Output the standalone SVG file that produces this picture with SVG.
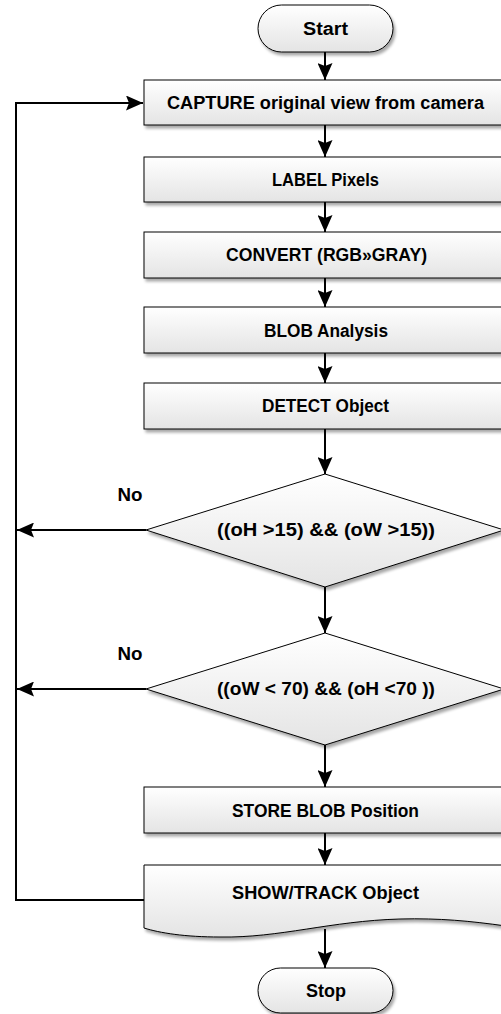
<svg xmlns="http://www.w3.org/2000/svg" width="501" height="1014" viewBox="0 0 501 1014">
<defs>
<linearGradient id="g" x1="0" y1="0" x2="0" y2="1">
<stop offset="0" stop-color="#ffffff"/>
<stop offset="1" stop-color="#e4e4e4"/>
</linearGradient>
<filter id="sh" x="-10%" y="-10%" width="130%" height="140%">
<feGaussianBlur in="SourceAlpha" stdDeviation="1.5"/>
<feOffset dx="1.5" dy="2.5" result="b"/>
<feComponentTransfer><feFuncA type="linear" slope="0.35"/></feComponentTransfer>
<feMerge><feMergeNode/><feMergeNode in="SourceGraphic"/></feMerge>
</filter>
<marker id="ah" markerWidth="17" markerHeight="15" viewBox="0 0 17 15" refX="17" refY="7.5" orient="auto" markerUnits="userSpaceOnUse">
<path d="M0,0 L17,7.5 L0,15 L3,7.5 z" fill="#000"/>
</marker>
</defs>
<style>
.n{fill:url(#g);stroke:#000;stroke-width:1;filter:url(#sh)}
.t{font-family:"Liberation Sans",Arial,sans-serif;font-weight:bold;font-size:18px;fill:#000;text-anchor:middle}
.c{fill:none;stroke:#000;stroke-width:2}
.a{marker-end:url(#ah)}
</style>
<g id="connectors">
<line class="c a" x1="325" y1="52" x2="325" y2="80"/>
<line class="c a" x1="325" y1="125" x2="325" y2="157"/>
<line class="c a" x1="325" y1="202" x2="325" y2="232"/>
<line class="c a" x1="325" y1="278" x2="325" y2="307"/>
<line class="c a" x1="325" y1="353" x2="325" y2="383"/>
<line class="c a" x1="325" y1="429" x2="325" y2="474"/>
<line class="c a" x1="325" y1="587" x2="325" y2="633"/>
<line class="c a" x1="325" y1="745" x2="325" y2="787"/>
<line class="c a" x1="325" y1="833" x2="325" y2="865"/>
<line class="c a" x1="325" y1="929" x2="325" y2="968"/>
<line class="c a" x1="146" y1="530" x2="17" y2="530"/>
<line class="c a" x1="146" y1="689" x2="17" y2="689"/>
<polyline class="c a" points="144,900 16,900 16,103 143,103"/>
<text class="t" x="130" y="501" textLength="25" lengthAdjust="spacingAndGlyphs">No</text>
<text class="t" x="130" y="660" textLength="25" lengthAdjust="spacingAndGlyphs">No</text>
</g>
<g id="start">
<rect class="n" x="258" y="5" width="135" height="47" rx="23.5"/>
<text class="t" x="325.5" y="35" textLength="45" lengthAdjust="spacingAndGlyphs">Start</text>
</g>
<g id="capture">
<rect class="n" x="144" y="80" width="362" height="45"/>
<text class="t" x="325.5" y="109" textLength="317" lengthAdjust="spacingAndGlyphs">CAPTURE original view from camera</text>
</g>
<g id="label">
<rect class="n" x="144" y="157" width="362" height="45"/>
<text class="t" x="325.5" y="186" textLength="107" lengthAdjust="spacingAndGlyphs">LABEL Pixels</text>
</g>
<g id="convert">
<rect class="n" x="144" y="232" width="362" height="46"/>
<text class="t" x="326.5" y="261" textLength="201" lengthAdjust="spacingAndGlyphs">CONVERT (RGB»GRAY)</text>
</g>
<g id="blob">
<rect class="n" x="144" y="307" width="362" height="46"/>
<text class="t" x="326" y="337" textLength="124" lengthAdjust="spacingAndGlyphs">BLOB Analysis</text>
</g>
<g id="detect">
<rect class="n" x="144" y="383" width="362" height="46"/>
<text class="t" x="325.5" y="412" textLength="127" lengthAdjust="spacingAndGlyphs">DETECT Object</text>
</g>
<g id="cond1">
<polygon class="n" points="325,474 504,530 325,587 146,530"/>
<text class="t" x="326" y="536" textLength="218" lengthAdjust="spacingAndGlyphs">((oH &gt;15) &amp;&amp;  (oW &gt;15))</text>
</g>
<g id="cond2">
<polygon class="n" points="325,633 504,689 325,745 146,689"/>
<text class="t" x="326" y="695" textLength="218" lengthAdjust="spacingAndGlyphs">((oW &lt; 70) &amp;&amp; (oH &lt;70 ))</text>
</g>
<g id="store">
<rect class="n" x="144" y="787" width="362" height="46"/>
<text class="t" x="325.5" y="817" textLength="187" lengthAdjust="spacingAndGlyphs">STORE BLOB Position</text>
</g>
<g id="show">
<path class="n" d="M144,865 L506,865 L506,926 C470,921 440,918 400,919 C330,921 280,938 220,937 C185,937 160,933 144,928 Z"/>
<text class="t" x="325.5" y="899" textLength="187" lengthAdjust="spacingAndGlyphs">SHOW/TRACK Object</text>
</g>
<g id="stop">
<rect class="n" x="258" y="968" width="135" height="45" rx="22.5"/>
<text class="t" x="326" y="997" textLength="40" lengthAdjust="spacingAndGlyphs">Stop</text>
</g>
</svg>
